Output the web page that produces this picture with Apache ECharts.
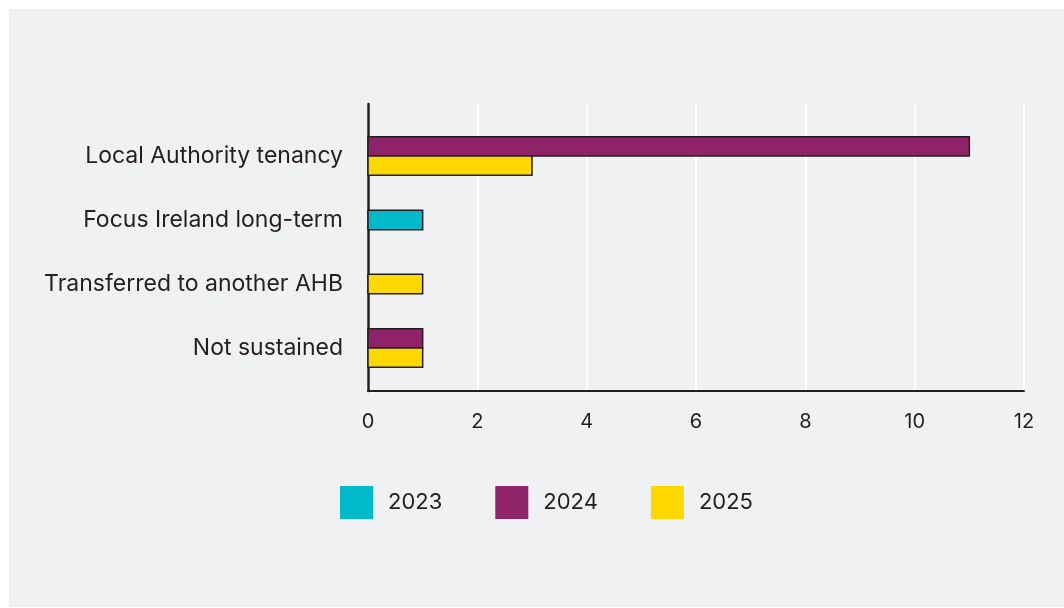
<!DOCTYPE html>
<html>
<head>
<meta charset="utf-8">
<script src="https://cdn.jsdelivr.net/npm/echarts@6/dist/echarts.min.js"></script>
<style>
  html, body { margin: 0; padding: 0; background: #ffffff; }
  #box { position: absolute; left: 9px; top: 9px; width: 1055px; height: 598px; background: #f0f1f3; }
  #chart { position: absolute; left: 0; top: 0; width: 1064px; height: 608px; }
</style>
</head>
<body>
<div id="box"></div>
<div id="chart"></div>
<script>
// categories, top to bottom
const categories = ['Local Authority tenancy', 'Focus Ireland long-term', 'Transferred to another AHB', 'Not sustained'];
const years = ['2023', '2024', '2025'];
// values per year (null = no bar)
const values2023 = [null, 1, null, null];
const values2024 = [11, null, null, 1];
const values2025 = [3, null, 1, 1];
const xMin = 0, xMax = 12, xStep = 2;

const colors = ['#00bacb', '#8e2369', '#ffd800'];
const ink = '#231f20';
const font = 'Inter, "Noto Sans", sans-serif';
const allValues = [values2023, values2024, values2025];

// bars of one category sit centred together, empty years take no room
function makeRender(seriesIdx) {
  return function (params, api) {
    const val = api.value(0);
    const cat = api.value(1);
    const present = [];
    allValues.forEach(function (arr, k) { if (arr[cat] != null) present.push(k); });
    const pos = present.indexOf(seriesIdx);
    const barH = 19.3;
    const start = api.coord([0, cat]);
    const end = api.coord([val, cat]);
    const y0 = start[1] - present.length * barH / 2 + pos * barH;
    return {
      type: 'rect',
      shape: { x: start[0], y: y0, width: end[0] - start[0], height: barH },
      style: { fill: colors[seriesIdx], stroke: ink, lineWidth: 1.5 }
    };
  };
}

const chart = echarts.init(document.getElementById('chart'));

const series = years.map(function (y, k) {
  const data = [];
  allValues[k].forEach(function (v, i) { if (v != null) data.push([v, i]); });
  return {
    name: y,
    type: 'custom',
    xAxisIndex: 1,
    yAxisIndex: 1,
    itemStyle: { color: colors[k] },
    encode: { x: 0, y: 1 },
    renderItem: makeRender(k),
    data: data
  };
});

chart.setOption({
  animation: false,
  backgroundColor: 'transparent',
  textStyle: { fontFamily: font },
  grid: [
    { left: 368, right: 40, top: 104, bottom: 217 },
    { left: 368, right: 40, top: 124, bottom: 228 }
  ],
  xAxis: [{
    gridIndex: 0,
    type: 'value',
    min: xMin, max: xMax, interval: xStep,
    axisLine: { show: true, lineStyle: { color: ink, width: 2 } },
    axisTick: { show: false },
    axisLabel: { color: ink, fontSize: 20, margin: 21, fontFamily: font },
    splitLine: { show: true, lineStyle: { color: '#ffffff', width: 2 } }
  }, {
    gridIndex: 1,
    type: 'value',
    min: xMin, max: xMax,
    show: false
  }],
  yAxis: [{
    gridIndex: 0,
    type: 'value',
    min: 0, max: 1,
    axisLine: { show: true, lineStyle: { color: ink, width: 2.5 } },
    axisTick: { show: false },
    axisLabel: { show: false },
    splitLine: { show: false }
  }, {
    gridIndex: 1,
    type: 'category',
    inverse: true,
    data: categories,
    axisLine: { show: false },
    axisTick: { show: false },
    splitLine: { show: false },
    axisLabel: { color: ink, fontSize: 23, margin: 25, fontFamily: font, padding: [0, 0, 3, 0] }
  }],
  legend: {
    data: years.map(function (y) { return { name: y, icon: 'rect' }; }),
    left: 340,
    top: 486,
    padding: 0,
    itemWidth: 33,
    itemHeight: 33,
    itemGap: 53,
    itemStyle: { borderWidth: 0 },
    textStyle: { color: ink, fontSize: 22, fontFamily: font, padding: [0, 0, 0, 10] }
  },
  series: series
});
</script>
</body>
</html>
